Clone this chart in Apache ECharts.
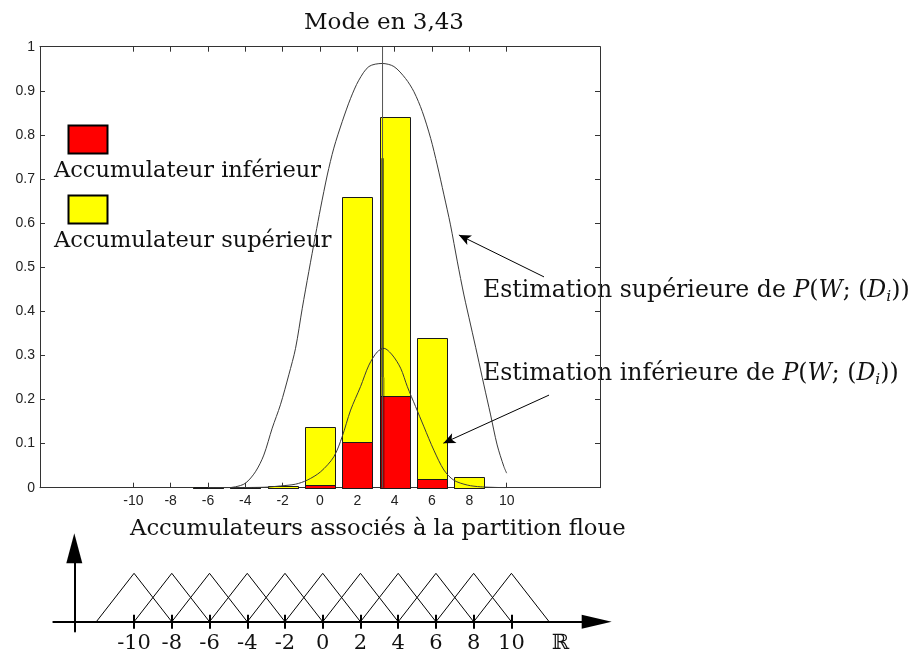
<!DOCTYPE html>
<html><head><meta charset="utf-8">
<script src="https://cdn.jsdelivr.net/npm/echarts@6/dist/echarts.min.js"></script>
<style>html,body{margin:0;padding:0;background:#fff}#c{width:915px;height:650px}</style>
</head><body><div id="c"></div>
<script>
// ---- data ----
const barCenters = [-6, -4, -2, 0, 2, 4, 6, 8];
const upperAcc = [0.001, 0.001, 0.004, 0.138, 0.659, 0.840, 0.339, 0.024];
const lowerAcc = [0, 0, 0, 0.006, 0.104, 0.207, 0.019, 0];

const upperCurveX = [-6, -5, -4.53, -4.0, -3.46, -3.01, -2.56, -2.12, -1.67, -1.31, -0.95, -0.60, -0.24, 0.03, 0.39, 0.74, 1.19, 1.64, 2.08, 2.62, 3.33, 3.96, 4.58, 5.03, 5.48, 5.93, 6.28, 6.64, 6.99, 7.36, 7.71, 8.07, 8.43, 8.78, 9.14, 9.49, 9.85, 10.0];
const upperCurveY = [0, 0, 0.002, 0.010, 0.036, 0.074, 0.135, 0.188, 0.256, 0.316, 0.407, 0.490, 0.573, 0.634, 0.709, 0.770, 0.830, 0.883, 0.924, 0.955, 0.962, 0.955, 0.928, 0.898, 0.853, 0.792, 0.732, 0.664, 0.596, 0.512, 0.437, 0.369, 0.301, 0.233, 0.165, 0.097, 0.048, 0.033];

const lowerCurveX = [-6, -3, -2.12, -1.31, -0.69, 0.03, 0.74, 1.19, 1.64, 2.17, 2.62, 3.07, 3.42, 3.87, 4.32, 4.68, 5.12, 5.57, 6.10, 6.64, 7.17, 7.89, 8.61, 10];
const lowerCurveY = [0, 0.001, 0.004, 0.008, 0.017, 0.036, 0.070, 0.116, 0.176, 0.229, 0.278, 0.308, 0.316, 0.301, 0.271, 0.229, 0.184, 0.138, 0.085, 0.040, 0.017, 0.006, 0.002, 0];

const modeX = 3.35;
const modeMarkTop = 0.747;
const modeShadeTop = 0.25;

const xTicks = [-10, -8, -6, -4, -2, 0, 2, 4, 6, 8, 10];
const partitionCenters = [-10, -8, -6, -4, -2, 0, 2, 4, 6, 8, 10];
const partitionHalfWidth = 2;
const partitionPeak = 1;
const realsLabelPos = 12.6;

// annotation arrows (tail -> head) in data coordinates
const upperArrow = [[12.0, 0.478], [7.44, 0.573]];
const lowerArrow = [[12.27, 0.210], [6.61, 0.101]];

// ---- styles ----
const SERIF = '"DejaVu Serif", serif';
const SANS = '"Liberation Sans", Arial, sans-serif';
const barHalf = 0.8;
const TXT = 22.5;
const ANN = 23.6;

function barRenderer(fill) {
  return function (params, api) {
    const x = api.value(0), v = api.value(1);
    const p1 = api.coord([x - barHalf, v]);
    const p2 = api.coord([x + barHalf, 0]);
    return {
      type: 'rect',
      shape: { x: Math.round(p1[0]) + 0.5, y: Math.round(p1[1]) + 0.5, width: Math.round(p2[0] - p1[0]), height: Math.round(p2[1]) - Math.round(p1[1]) },
      style: { fill: fill, stroke: '#1a1a1a', lineWidth: 1 }
    };
  };
}

const zip = (xs, ys) => xs.map((x, i) => [x, ys[i]]);

const series = [
  { type: 'custom', xAxisIndex: 0, yAxisIndex: 0, renderItem: barRenderer('#ffff00'), data: zip(barCenters, upperAcc), z: 2 },
  { type: 'custom', xAxisIndex: 0, yAxisIndex: 0, renderItem: barRenderer('#ff0000'), data: zip(barCenters, lowerAcc), z: 3 },
  { type: 'line', xAxisIndex: 0, yAxisIndex: 0, data: zip(upperCurveX, upperCurveY), symbol: 'none', smooth: 0.3, lineStyle: { color: '#3a3a3a', width: 1 }, z: 4 },
  { type: 'line', xAxisIndex: 0, yAxisIndex: 0, data: zip(lowerCurveX, lowerCurveY), symbol: 'none', smooth: 0.3, lineStyle: { color: '#3a3a3a', width: 1 }, z: 4 },
  { type: 'line', xAxisIndex: 0, yAxisIndex: 0, data: [[modeX, 0], [modeX, modeShadeTop]], symbol: 'none', lineStyle: { color: 'rgba(0,0,0,0.4)', width: 4 }, z: 5 },
  { type: 'line', xAxisIndex: 0, yAxisIndex: 0, data: [[modeX, modeShadeTop], [modeX, modeMarkTop]], symbol: 'none', lineStyle: { color: '#000', width: 2 }, z: 5 },
  { type: 'line', xAxisIndex: 0, yAxisIndex: 0, data: [[modeX, 0], [modeX, 1]], symbol: 'none', lineStyle: { color: '#555', width: 1 }, z: 6,
    markLine: {
      silent: true, animation: false,
      symbol: ['none', 'arrow'], symbolSize: [8, 12],
      label: { show: false },
      lineStyle: { type: 'solid', color: '#000', width: 1 },
      emphasis: { disabled: true },
      data: [
        [{ coord: upperArrow[0] }, { coord: upperArrow[1] }],
        [{ coord: lowerArrow[0] }, { coord: lowerArrow[1] }]
      ]
    }
  }
];

partitionCenters.forEach(c => {
  series.push({
    type: 'line', xAxisIndex: 2, yAxisIndex: 2, symbol: 'none',
    data: [[c - partitionHalfWidth, 0], [c, partitionPeak], [c + partitionHalfWidth, 0]],
    lineStyle: { color: '#000', width: 1 }, z: 2
  });
});

const axisColor = '#333';
const richStyles = {
  n: { fontFamily: SERIF, fontSize: ANN, fill: '#111', lineHeight: 28 },
  it: { fontFamily: SERIF, fontStyle: 'italic', fontSize: ANN, fill: '#111', lineHeight: 28 },
  sub: { fontFamily: SERIF, fontStyle: 'italic', fontSize: 15.5, fill: '#111', lineHeight: 28, verticalAlign: 'bottom' }
};
const option = {
  animation: false,
  grid: [
    { left: 40, right: 315, top: 46.7, bottom: 162.3, outerBoundsMode: 'none' },
    { left: 53.3, width: 543.4, top: 548.3, bottom: 18.6, outerBoundsMode: 'none' }
  ],
  xAxis: [
    { gridIndex: 0, type: 'value', min: -15, max: 15, position: 'bottom',
      axisLine: { show: true, onZero: false, lineStyle: { color: axisColor, width: 1 } },
      axisTick: { show: true, inside: true, length: 5, customValues: xTicks, lineStyle: { color: axisColor } },
      axisLabel: { show: true, customValues: xTicks, margin: 6, fontFamily: SANS, fontSize: 14, color: '#222' },
      splitLine: { show: false } },
    { gridIndex: 0, type: 'value', min: -15, max: 15, position: 'top',
      axisLine: { show: true, onZero: false, lineStyle: { color: axisColor, width: 1 } },
      axisTick: { show: true, inside: true, length: 5, customValues: xTicks, lineStyle: { color: axisColor } },
      axisLabel: { show: false }, splitLine: { show: false } },
    { gridIndex: 1, type: 'value', min: -14.28, max: 14.52, position: 'bottom',
      axisLine: { show: true, onZero: true, onZeroAxisIndex: 2, symbol: ['none', 'triangle'], symbolSize: [14, 30], lineStyle: { color: '#000', width: 2 } },
      axisTick: { show: true, inside: false, length: 7, customValues: xTicks, lineStyle: { color: '#000', width: 2 } },
      axisLabel: { show: true, customValues: xTicks.concat([realsLabelPos]), margin: 2, fontFamily: SERIF, fontSize: 21, color: '#111',
        formatter: v => (Math.abs(v - realsLabelPos) < 1e-6 ? 'ℝ' : String(v)) },
      splitLine: { show: false } },
    { gridIndex: 1, type: 'value', min: -14.28, max: 14.52, position: 'top',
      axisLine: { show: false, onZero: true, onZeroAxisIndex: 2 },
      axisTick: { show: true, inside: false, length: 7, customValues: xTicks, lineStyle: { color: '#000', width: 2 } },
      axisLabel: { show: false }, splitLine: { show: false } }
  ],
  yAxis: [
    { gridIndex: 0, type: 'value', min: 0, max: 1, interval: 0.1, position: 'left',
      axisLine: { show: true, onZero: false, lineStyle: { color: axisColor, width: 1 } },
      axisTick: { show: true, inside: true, length: 5, lineStyle: { color: axisColor } },
      axisLabel: { show: true, margin: 5, fontFamily: SANS, fontSize: 14, color: '#222' },
      splitLine: { show: false } },
    { gridIndex: 0, type: 'value', min: 0, max: 1, interval: 0.1, position: 'right',
      axisLine: { show: true, onZero: false, lineStyle: { color: axisColor, width: 1 } },
      axisTick: { show: true, inside: true, length: 5, lineStyle: { color: axisColor } },
      axisLabel: { show: false }, splitLine: { show: false } },
    { gridIndex: 1, type: 'value', min: -0.2, max: 1.517, position: 'left', offset: -21,
      axisLine: { show: true, onZero: false, symbol: ['none', 'triangle'], symbolSize: [16, 30], lineStyle: { color: '#000', width: 2 } },
      axisTick: { show: false }, axisLabel: { show: false }, splitLine: { show: false } },
    { gridIndex: 1, type: 'value', min: -0.2, max: 1.517, position: 'right',
      axisLine: { show: false, onZero: false }, axisTick: { show: false }, axisLabel: { show: false }, splitLine: { show: false } }
  ],
  graphic: [
    { type: 'text', x: 384, y: 23, style: { text: 'Mode en 3,43', fontFamily: SERIF, fontSize: 23, fill: '#111', textAlign: 'center', textVerticalAlign: 'middle' } },
    { type: 'rect', shape: { x: 68.5, y: 125.5, width: 39, height: 28 }, style: { fill: '#ff0000', stroke: '#000', lineWidth: 2 } },
    { type: 'text', x: 54, y: 171, style: { text: 'Accumulateur inférieur', fontFamily: SERIF, fontSize: TXT, fill: '#111', textAlign: 'left', textVerticalAlign: 'middle' } },
    { type: 'rect', shape: { x: 68.5, y: 195.5, width: 39, height: 28 }, style: { fill: '#ffff00', stroke: '#000', lineWidth: 2 } },
    { type: 'text', x: 54, y: 241, style: { text: 'Accumulateur supérieur', fontFamily: SERIF, fontSize: TXT, fill: '#111', textAlign: 'left', textVerticalAlign: 'middle' } },
    { type: 'text', x: 483, y: 291, style: {
        text: '{n|Estimation supérieure de }{it|P}{n|(}{it|W}{n|; (}{it|D}{sub|i}{n|))}',
        textAlign: 'left', textVerticalAlign: 'middle', rich: richStyles } },
    { type: 'text', x: 483, y: 374, style: {
        text: '{n|Estimation inférieure de }{it|P}{n|(}{it|W}{n|; (}{it|D}{sub|i}{n|))}',
        textAlign: 'left', textVerticalAlign: 'middle', rich: richStyles } },
    { type: 'text', x: 130, y: 529, style: { text: 'Accumulateurs associés à la partition floue', fontFamily: SERIF, fontSize: 22.7, fill: '#111', textAlign: 'left', textVerticalAlign: 'middle' } }
  ],
  series: series
};

const chart = echarts.init(document.getElementById('c'), null, { renderer: 'canvas' });
chart.setOption(option);
</script>
</body></html>
